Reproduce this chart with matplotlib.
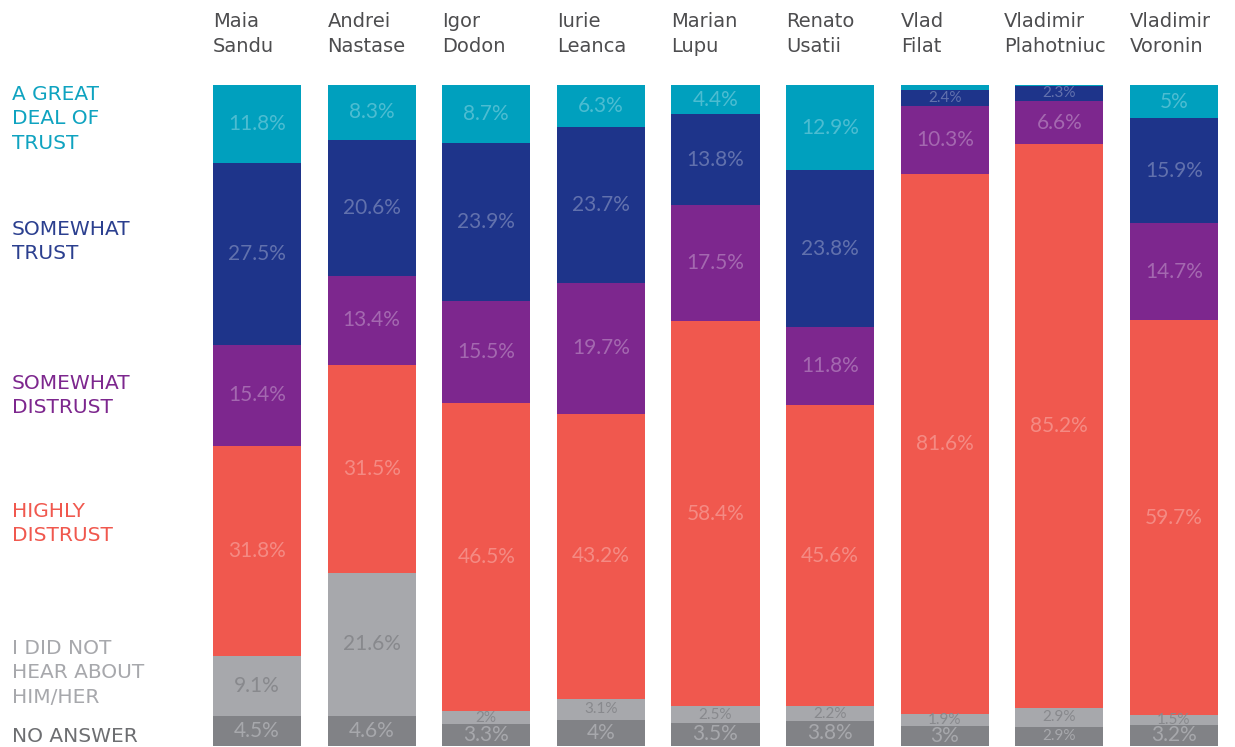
import numpy as np
import matplotlib
matplotlib.use('Agg')
from matplotlib import pyplot as plt

plt.rcParams['font.family'] = ['Lato', 'DejaVu Sans']

names = ['Maia\nSandu', 'Andrei\nNastase', 'Igor\nDodon', 'Iurie\nLeanca', 'Marian\nLupu',
         'Renato\nUsatii', 'Vlad\nFilat', 'Vladimir\nPlahotniuc', 'Vladimir\nVoronin']

# bottom to top
no_answer   = [4.5, 4.6, 3.3, 4.0, 3.5, 3.8, 3.0, 2.9, 3.2]
not_heard   = [9.1, 21.6, 2.0, 3.1, 2.5, 2.2, 1.9, 2.9, 1.5]
highly_dis  = [31.8, 31.5, 46.5, 43.2, 58.4, 45.6, 81.6, 85.2, 59.7]
somewhat_dis = [15.4, 13.4, 15.5, 19.7, 17.5, 11.8, 10.3, 6.6, 14.7]
somewhat_tr = [27.5, 20.6, 23.9, 23.7, 13.8, 23.8, 2.4, 2.3, 15.9]
great_deal  = [11.8, 8.3, 8.7, 6.3, 4.4, 12.9, 0.8, 0.1, 5.0]

series = [no_answer, not_heard, highly_dis, somewhat_dis, somewhat_tr, great_deal]
colors = ['#818286', '#A7A8AC', '#F0584E', '#7D278E', '#1E348A', '#00A0BE']
legend_text = ['NO ANSWER', 'I DID NOT\nHEAR ABOUT\nHIM/HER', 'HIGHLY\nDISTRUST',
               'SOMEWHAT\nDISTRUST', 'SOMEWHAT\nTRUST', 'A GREAT\nDEAL OF\nTRUST']
legend_color = ['#6D6E71', '#A7A8AC', '#F0584E', '#7D278E', '#2B3F8F', '#0FA3C0']
legend_y = [737, 673, 523.5, 395.5, 241.5, 119]

W, H = 1235, 747
fig = plt.figure(figsize=(W / 100, H / 100), dpi=100)
ax = fig.add_axes([213 / W, 1 / H, (1218 - 213) / W, (746 - 85) / H])

data = np.array(series)
data = data / data.sum(axis=0) * 100
x = np.arange(len(names))
w = 88 / 114.6
bottom = np.zeros(len(names))
for k in range(len(series)):
    vals = data[k]
    ax.bar(x, vals, w, bottom=bottom, color=colors[k], linewidth=0)
    for i, v in enumerate(vals):
        raw = series[k][i]
        if raw < 1:
            continue
        small = raw < 2.95 or (k == 1 and raw < 3.5)
        if k == 1:
            tc, a = '#88898D', 1.0
        elif k == 0:
            tc, a = '#A7A8AC', 1.0
        else:
            tc, a = 'white', 0.3
        lab = ('%g' % raw) + '%'
        ax.text(i, bottom[i] + v / 2, lab, ha='center', va='center',
                fontsize=11 if small else 15, color=tc, alpha=a)
    bottom += vals

ax.set_xlim(-w / 2, len(names) - 1 + w / 2)
ax.set_ylim(0, 100)
ax.axis('off')

for i, n in enumerate(names):
    dx = -0.1 if i == 7 else 0
    ax.text(i - w / 2 + dx, 1 + (85 - 34) / 661, n, transform=ax.get_xaxis_transform(),
            ha='left', va='center', fontsize=14, color='#4D4D4F', linespacing=1.42,
            family='DejaVu Sans')

for t, c, py in zip(legend_text, legend_color, legend_y):
    fig.text(12 / W, 1 - py / H, t, ha='left', va='center', fontsize=14.5, color=c,
             family='DejaVu Sans', linespacing=1.34)

fig.savefig('out.png', dpi=100)
